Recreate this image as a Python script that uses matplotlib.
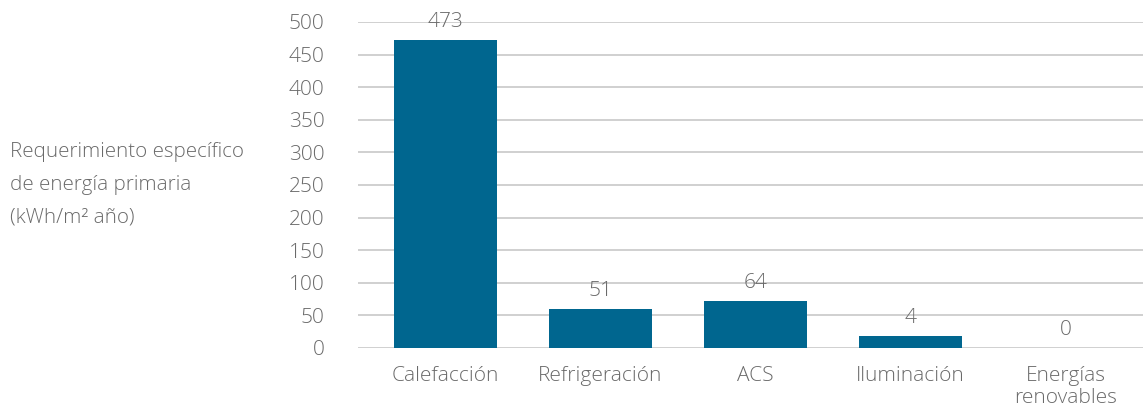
import numpy as np
from matplotlib import pyplot as plt

plt.rcParams['font.family'] = ['Open Sans', 'DejaVu Sans']

categories = ["Calefacción", "Refrigeración", "ACS", "Iluminación", "Energías\nrenovables"]
# bar heights as drawn in the picture (they do not match the printed labels)
bar_heights = [472, 60, 72, 18, 0]
value_labels = ["473", "51", "64", "4", "0"]
yticks = [0, 50, 100, 150, 200, 250, 300, 350, 400, 450, 500]

bar_color = '#00668f'
text_color = '#6a6a6a'

fig = plt.figure(figsize=(11.43, 4.07), dpi=100)
ax = fig.add_axes([0.313, 0.145, 0.687, 0.801])

x = np.arange(len(categories))
ax.bar(x, bar_heights, width=0.66, color=bar_color, zorder=3)

for xi, h, lab in zip(x, bar_heights, value_labels):
    ax.annotate(lab, (xi, h), xytext=(0, 18), textcoords='offset pixels',
                ha='center', va='center', fontsize=15, color=text_color,
                fontweight='light', annotation_clip=False, zorder=4)

ax.set_ylim(0, 500)
ax.set_xlim(-0.566, 4.5)
ax.set_yticks(yticks)
ax.yaxis.grid(True, color='#c8c8c8', linewidth=1.2, zorder=0)
ax.set_axisbelow(True)
for s in ax.spines.values():
    s.set_visible(False)
ax.tick_params(axis='both', length=0, labelsize=15, labelcolor=text_color)
ax.tick_params(axis='y', pad=24)
ax.tick_params(axis='x', pad=13)
ax.set_xticks(x)
ax.set_xticklabels(categories, linespacing=1.15, va='top')
for t in ax.get_xticklabels() + ax.get_yticklabels():
    t.set_fontweight('light')

fig.text(10 / 1143, 1 - 185 / 407,
         "Requerimiento específico\nde energía primaria\n(kWh/m² año)",
         ha='left', va='center', fontsize=14.8, color=text_color,
         fontweight='light', linespacing=1.85)

plt.savefig("out.png", dpi=100)
